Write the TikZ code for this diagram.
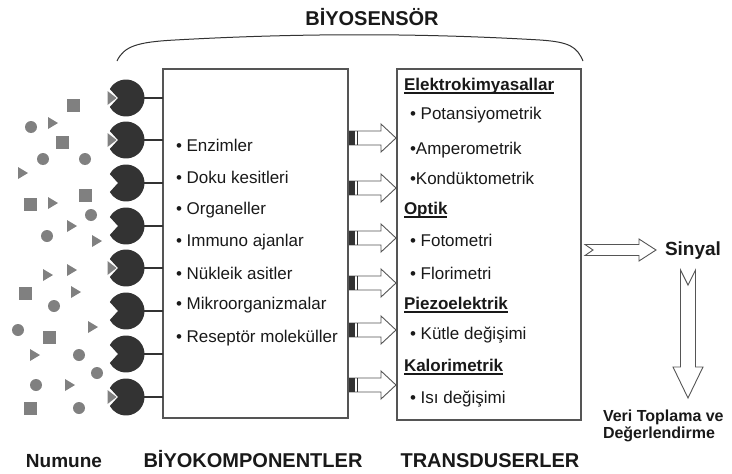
\documentclass[tikz,border=0pt]{standalone}
\usepackage{fontspec}
\setmainfont{Liberation Sans}
\definecolor{ink}{RGB}{25,25,25}
\definecolor{recept}{RGB}{51,51,51}
\definecolor{analyte}{RGB}{128,128,128}
\definecolor{frame}{RGB}{85,85,85}
\begin{document}
\begin{tikzpicture}[x=1pt,y=-1pt,
  every node/.style={inner sep=0pt, outer sep=0pt, text=ink},
  panel/.style={draw=frame, line width=1.3pt, fill=white, anchor=north west},
  listentry/.style={anchor=base west, font=\fontsize{17}{20}\selectfont},
  groupname/.style={anchor=base west, font=\fontsize{17}{20}\selectfont\bfseries},
  footlabel/.style={anchor=base, font=\fontsize{20}{24}\selectfont\bfseries},
  hollowarrow/.style={draw=frame, line width=0.9pt, fill=white, line join=miter},
  link/.style={draw=recept, line width=1.2pt},
  passarrow/.pic={
    \draw[hollowarrow] (1,-7) -- (33,-7) -- (33,-14) -- (48,0) -- (33,14) -- (33,7) -- (1,7) -- cycle;
    \fill[recept] (1,-7) rectangle (7,7);
    \draw[recept, line width=0.9pt] (9.5,-7) -- (9.5,7);
  },
]
\useasboundingbox (0,0) rectangle (732,474);

% sample: free analytes
\foreach \px/\py in {73/105,62/142,30/204,85/195,25/293,49/337,30/408}
  \fill[analyte] (\px-6.5,\py-6.5) rectangle (\px+6.5,\py+6.5);
\foreach \px/\py in {31/127,43/159,85/159,91/215,47/236,54/306,18/330,79/355,97/373,36/385,79/408}
  \fill[analyte] (\px,\py) circle[radius=6pt];
\foreach \px/\py in {53/123,23/173,53/203,72/226,97/241,48/275,72/270,76/292,93/327,35/355,70/385}
  \fill[analyte] (\px-5,\py-6) -- (\px+5,\py) -- (\px-5,\py+6) -- cycle;

% boxes
\node[panel, minimum width=185pt, minimum height=349pt] (bio) at (163,69) {};
\node[panel, minimum width=184pt, minimum height=351pt] (trans) at (397,69) {};

% receptors with their binding notch, some holding an analyte
\foreach \yy/\hasb [count=\i] in {98/1,140/1,183/0,226/0,268/1,311/0,354/0,397/1} {
  \coordinate (r\i) at (126,\yy);
  \draw[link] ([xshift=17pt]r\i) -- (r\i -| bio.west);
  \fill[recept] (r\i) ++(151:18.5pt) arc[start angle=151, end angle=-151, radius=18.5pt]
    -- ([xshift=-8pt]r\i) -- cycle;
  \ifnum\hasb=1
    \fill[analyte] ([xshift=-18.5pt,yshift=7pt]r\i) -- ([xshift=-9.5pt]r\i)
      -- ([xshift=-18.5pt,yshift=-7pt]r\i) -- cycle;
  \fi
}

% brace over the sensor
\draw[draw=recept, line width=1pt] (117,61) .. controls (124,46) and (138,42) .. (175,40)
  .. controls (300,33) and (420,33) .. (540,40)
  .. controls (570,42) and (577,47) .. (583,61);
\node[footlabel] (title) at (372,25) {BİYOSENSÖR};

% arrows from the biocomponents to the transducers
\foreach \yy [count=\i] in {138,188,238,283,330,385}
  \pic (p\i) at (348,\yy) {passarrow};

% biocomponent list
\node[listentry] (b1) at (176,151) {• Enzimler};
\node[listentry] (b2) at (176,183) {• Doku kesitleri};
\node[listentry] (b3) at (176,214) {• Organeller};
\node[listentry] (b4) at (176,246) {• Immuno ajanlar};
\node[listentry] (b5) at (176,279) {• Nükleik asitler};
\node[listentry] (b6) at (176,309) {• Mikroorganizmalar};
\node[listentry] (b7) at (176,342) {• Reseptör moleküller};

% transducer list
\node[groupname] (h1) at (404,90) {Elektrokimyasallar};
\node[listentry] (t1) at (410,119) {• Potansiyometrik};
\node[listentry] (t2) at (410,154) {•Amperometrik};
\node[listentry] (t3) at (410,184) {•Kondüktometrik};
\node[groupname] (h2) at (404,214) {Optik};
\node[listentry] (t4) at (410,246) {• Fotometri};
\node[listentry] (t5) at (410,279) {• Florimetri};
\node[groupname] (h3) at (404,309) {Piezoelektrik};
\node[listentry] (t6) at (410,339) {• Kütle değişimi};
\node[groupname] (h4) at (404,371) {Kalorimetrik};
\node[listentry] (t7) at (410,403) {• Isı değişimi};
\foreach \h in {h1,h2,h3,h4}
  \draw[ink, line width=1.3pt] ([yshift=-3pt]\h.base west) -- ([yshift=-3pt]\h.base east);

% output signal and data handling
\node[anchor=base west, font=\fontsize{19}{22}\selectfont\bfseries] (sig) at (665,255) {Sinyal};
\coordinate (s0) at (585,250);
\draw[hollowarrow] (s0) ++(0,-5.5) -- ++(54,0) -- ++(0,-5.5) -- ++(17,11) -- ++(-17,11)
  -- ++(0,-5.5) -- ++(-54,0) -- ++(8,-5.5) -- cycle;
\coordinate (d0) at (688,270);
\draw[hollowarrow] (d0) ++(-7.5,0) -- ++(7.5,15) -- ++(7.5,-15) -- ++(0,97) -- ++(7.5,0)
  -- ++(-15,31) -- ++(-15,-31) -- ++(7.5,0) -- cycle;
\node[anchor=base west, font=\fontsize{16}{18}\selectfont\bfseries] (v1) at (603,421) {Veri Toplama ve};
\node[anchor=base west, font=\fontsize{16}{18}\selectfont\bfseries] (v2) at (603,438) {Değerlendirme};

% column captions
\node[footlabel, font=\fontsize{19}{23}\selectfont\bfseries] (c1) at (64,467) {Numune};
\node[footlabel] (c2) at (253,467) {BİYOKOMPONENTLER};
\node[footlabel] (c3) at (490,467) {TRANSDUSERLER};
\end{tikzpicture}
\end{document}
